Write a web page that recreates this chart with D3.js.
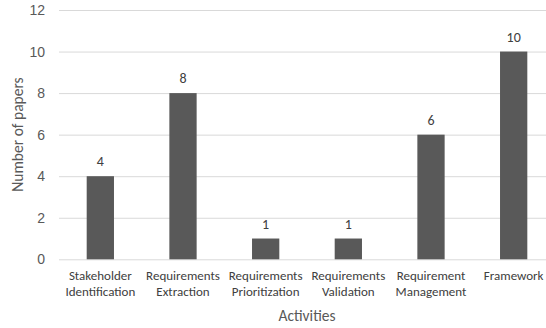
<!DOCTYPE html>
<html>
<head>
<meta charset="utf-8">
<script src="https://cdn.jsdelivr.net/npm/d3@7"></script>
<style>
  html, body { margin: 0; padding: 0; background: #fff; }
  svg { display: block; font-family: Carlito, Calibri, Lato, sans-serif; }
</style>
</head>
<body>
<svg id="chart" width="546" height="328"></svg>
<script>
// Papers per requirements-engineering activity
const categories = [
  ["Stakeholder", "Identification"],
  ["Requirements", "Extraction"],
  ["Requirements", "Prioritization"],
  ["Requirements", "Validation"],
  ["Requirement", "Management"],
  ["Framework"]
];
const values = [4, 8, 1, 1, 6, 10];
const yTicks = [0, 2, 4, 6, 8, 10, 12];

const svg = d3.select("#chart");
const plot = { left: 59, right: 555, top: 10, bottom: 259.3 };

const x = d3.scaleBand()
  .domain(d3.range(categories.length))
  .range([plot.left, plot.right])
  .paddingInner(0.67)
  .paddingOuter(0.335);

const y = d3.scaleLinear().domain([0, 12]).range([plot.bottom, plot.top]);

// horizontal gridlines and tick labels
const yAxis = d3.axisLeft(y).tickValues(yTicks).tickSize(-(plot.right - plot.left)).tickPadding(14);
const gy = svg.append("g").attr("transform", `translate(${plot.left},0)`).call(yAxis);
gy.select(".domain").remove();
gy.selectAll(".tick line").attr("stroke", "#d9d9d9").attr("stroke-width", 1);
gy.selectAll(".tick text").attr("fill", "#595959").style("font-size", "14px").attr("font-family", null);

// bars
svg.append("g").selectAll("rect").data(values).join("rect")
  .attr("x", (d, i) => x(i))
  .attr("y", d => y(d))
  .attr("width", x.bandwidth())
  .attr("height", d => y(0) - y(d))
  .attr("fill", "#595959");

// value labels
svg.append("g").selectAll("text").data(values).join("text")
  .attr("x", (d, i) => x(i) + x.bandwidth() / 2)
  .attr("y", d => y(d) - 10)
  .attr("text-anchor", "middle")
  .attr("fill", "#404040")
  .style("font-size", "14px")
  .text(d => d);

// category labels
const cat = svg.append("g").selectAll("text").data(categories).join("text")
  .attr("x", (d, i) => x(i) + x.bandwidth() / 2)
  .attr("y", 280)
  .attr("text-anchor", "middle")
  .attr("fill", "#404040")
  .style("font-size", "13px");
cat.selectAll("tspan").data(d => d).join("tspan")
  .attr("x", function () { return d3.select(this.parentNode).attr("x"); })
  .attr("dy", (d, i) => i === 0 ? 0 : 16)
  .text(d => d);

// axis titles
svg.append("text")
  .attr("x", 307)
  .attr("y", 321)
  .attr("text-anchor", "middle")
  .attr("fill", "#595959")
  .style("font-size", "15.5px")
  .text("Activities");

svg.append("text")
  .attr("transform", `translate(23,134.5) rotate(-90)`)
  .attr("text-anchor", "middle")
  .attr("fill", "#595959")
  .style("font-size", "15.5px")
  .text("Number of papers");
</script>
</body>
</html>
